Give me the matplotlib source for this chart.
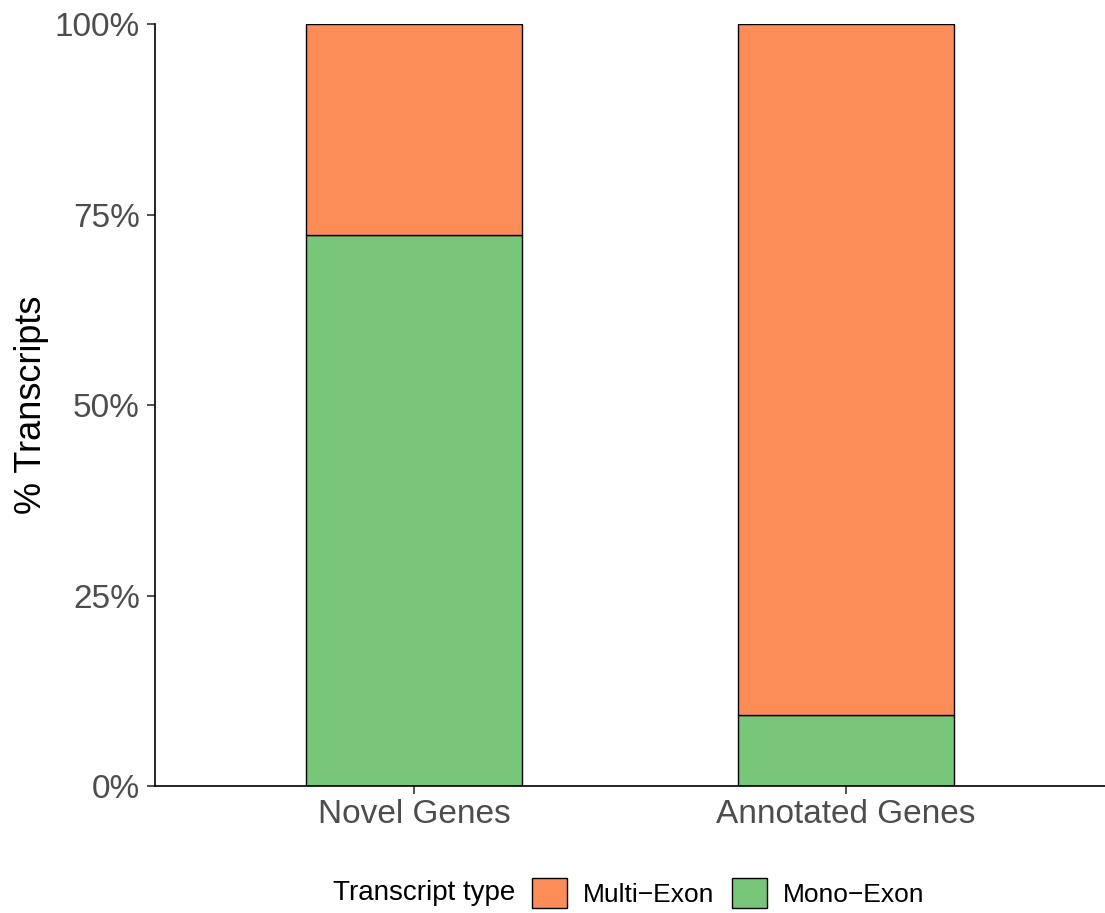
import matplotlib.pyplot as plt
from matplotlib.patches import Patch
from matplotlib.ticker import PercentFormatter
from matplotlib.offsetbox import HPacker

# data
genes = ['Novel Genes', 'Annotated Genes']
mono_exon = [0.723, 0.093]
multi_exon = [1 - v for v in mono_exon]
yticks = [0, 0.25, 0.5, 0.75, 1.0]

green = '#78C679'
orange = '#FC8D59'

plt.rcParams['font.family'] = ['Liberation Sans', 'DejaVu Sans']

fig = plt.figure(figsize=(11.05, 9.13), dpi=100)
ax = fig.add_axes([0.1403, 0.1391, 0.8597, 0.8346])

x = list(range(1, len(genes) + 1))
ax.bar(x, mono_exon, width=0.5, color=green, edgecolor='black', linewidth=1)
ax.bar(x, multi_exon, width=0.5, bottom=mono_exon, color=orange, edgecolor='black', linewidth=1)

ax.set_xlim(0.4, 2.6)
ax.set_ylim(0, 1)
ax.set_xticks(x)
ax.set_xticklabels(genes)
ax.set_yticks(yticks)
ax.yaxis.set_major_formatter(PercentFormatter(1.0, decimals=0))
ax.tick_params(labelsize=24, labelcolor='#4D4D4D', length=6, width=1.2, color='#333333')
ax.tick_params(axis='x', pad=3)
ax.tick_params(axis='y', pad=5)
ax.set_ylabel('% Transcripts', fontsize=26, labelpad=4)

for side in ['top', 'right']:
    ax.spines[side].set_visible(False)
for side in ['left', 'bottom']:
    ax.spines[side].set_linewidth(1.2)

handles = [Patch(facecolor=orange, edgecolor='black', label='Multi\u2212Exon'),
           Patch(facecolor=green, edgecolor='black', label='Mono\u2212Exon')]
leg = fig.legend(handles=handles, loc='center', bbox_to_anchor=(0.569, 0.022), ncol=2,
                 frameon=False, fontsize=19, title='Transcript type', title_fontsize=20,
                 handlelength=1.33, handleheight=1.33, handletextpad=0.6, columnspacing=0.7)
# put the title to the left of the keys
box = leg._legend_box
title_box, handle_box = box._children
box._children = [HPacker(children=[title_box, handle_box], align='center', pad=0, sep=12)]

fig.savefig('out.png', dpi=100)
